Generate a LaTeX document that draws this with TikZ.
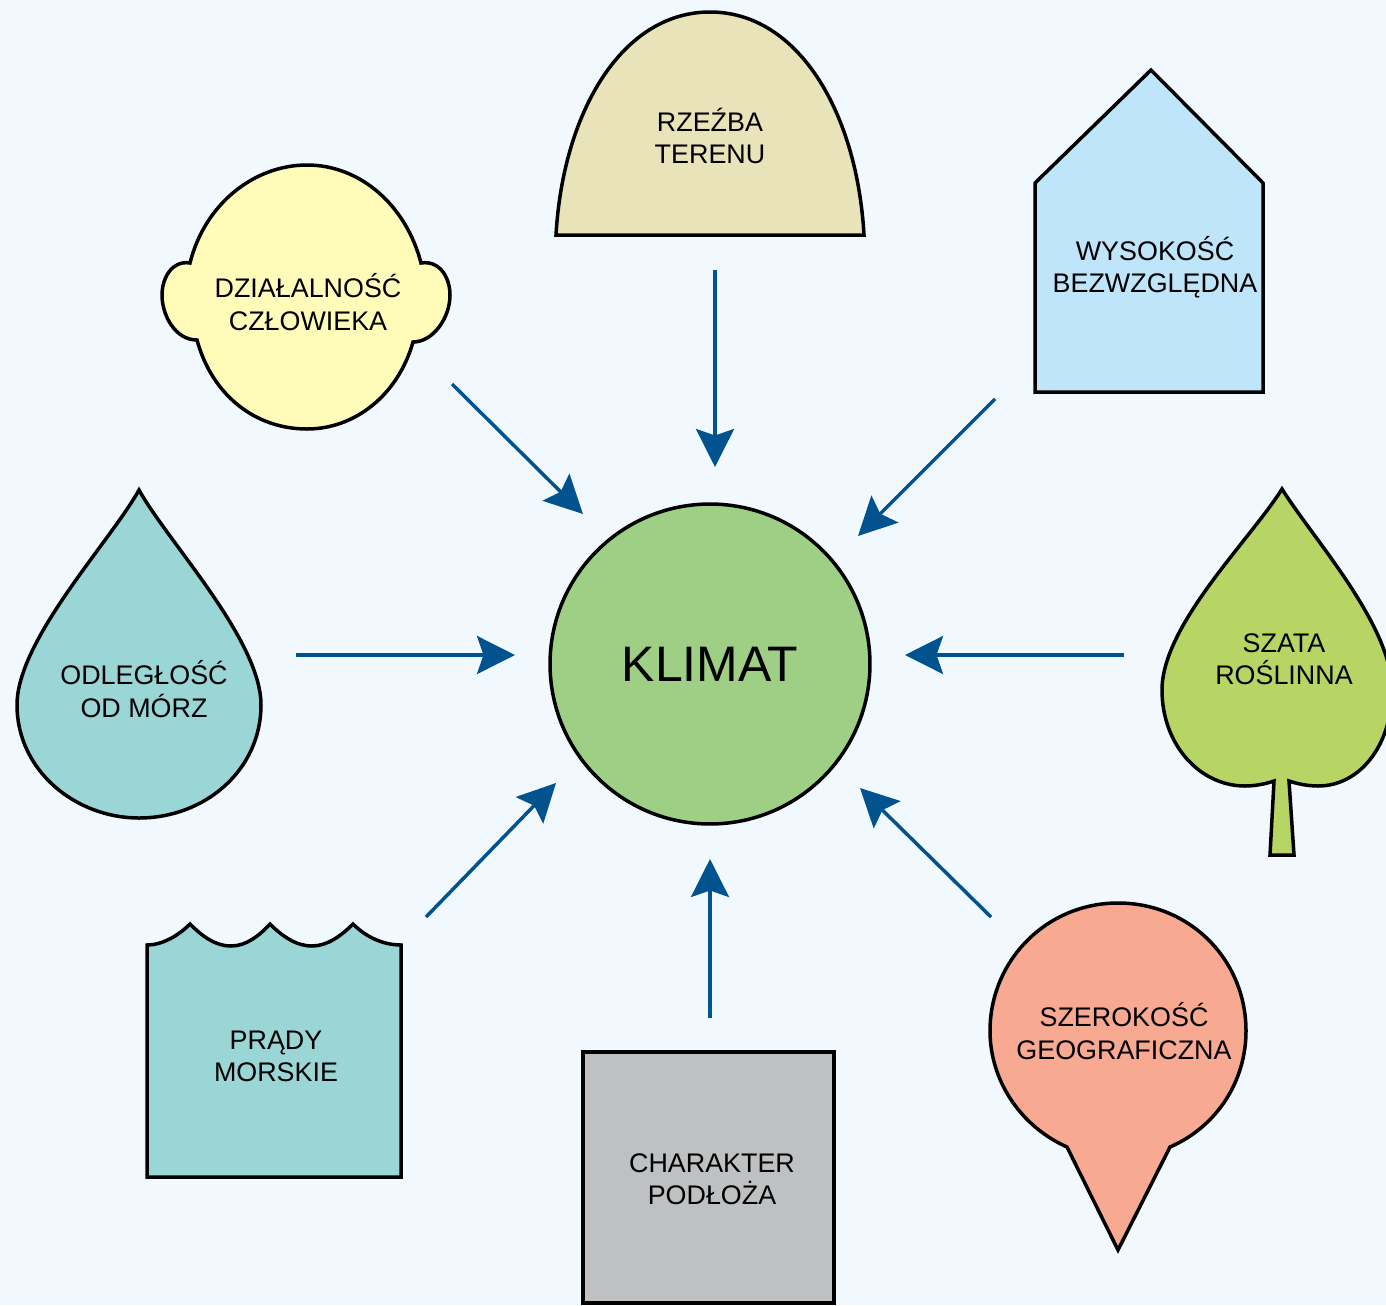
\documentclass[tikz,border=0pt]{standalone}
\usepackage{fontspec}
\setmainfont{Liberation Sans}
\usetikzlibrary{arrows.meta}

\definecolor{bgblue}{HTML}{F2F9FE}
\definecolor{arrowblue}{HTML}{00538F}
\definecolor{hillcol}{HTML}{E8E3B8}
\definecolor{housecol}{HTML}{BFE5FA}
\definecolor{headcol}{HTML}{FFFBB8}
\definecolor{watercol}{HTML}{9AD6D6}
\definecolor{leafcol}{HTML}{B7D564}
\definecolor{climatecol}{HTML}{9FCF85}
\definecolor{greycol}{HTML}{BEC0C2}
\definecolor{pincol}{HTML}{F8A992}

\tikzset{
  outline/.style={draw=black,line width=0.07cm,line join=miter},
  caption/.style={align=center,inner sep=0pt,font=\fontsize{15.3}{18.35}\selectfont},
  flow/.style={draw=arrowblue,line width=0.07cm,
    -{Stealth[length=0.76cm,width=0.76cm,inset=0.13cm]}},
}

\begin{document}
\begin{tikzpicture}[x=0.02cm,y=-0.02cm]
  \useasboundingbox (0,0) rectangle (1386,1305);
  \fill[bgblue] (0,0) rectangle (1386,1305);

  % Centre
  \node[outline,circle,fill=climatecol,minimum size=6.4cm,inner sep=0pt,
    font=\fontsize{28.4}{34}\selectfont] (klimat) at (710,664) {KLIMAT};

  % Hill
  \draw[outline,fill=hillcol] (556,235) .. controls (563,112) and (622,12) .. (710,12)
    .. controls (798,12) and (857,112) .. (864,235) -- cycle;
  \node[caption] (rzezba) at (710,136) {RZEŹBA\\TERENU};

  % House
  \draw[outline,fill=housecol] (1035,183) -- (1151,70) -- (1263,183) -- (1263,392) -- (1035,392) -- cycle;
  \node[caption] (wysokosc) at (1155,267) {WYSOKOŚĆ\\BEZWZGLĘDNA};

  % Head
  \draw[outline,fill=headcol] (190,263) .. controls (205,203) and (255,165) .. (307,165)
    .. controls (360,165) and (406,205) .. (421,263)
    .. controls (440,260) and (450,278) .. (450,295)
    .. controls (450,318) and (433,342) .. (413,342)
    .. controls (398,395) and (355,429) .. (307,429)
    .. controls (255,429) and (212,395) .. (197,340)
    .. controls (175,340) and (162,315) .. (162,295)
    .. controls (162,278) and (172,260) .. (190,263) -- cycle;
  \node[caption] (czlowiek) at (308,302) {DZIAŁALNOŚĆ\\CZŁOWIEKA};

  % Drop
  \draw[outline,fill=watercol] (139,490) .. controls (110,542) and (17,640) .. (17,705)
    .. controls (17,770) and (75,818) .. (139,818)
    .. controls (205,818) and (261,770) .. (261,705)
    .. controls (261,640) and (168,542) .. (139,490) -- cycle;
  \node[caption] (morza) at (144,689) {ODLEGŁOŚĆ\\OD MÓRZ};

  % Leaf
  \draw[outline,fill=leafcol] (1282,489) .. controls (1250,540) and (1162,625) .. (1162,690)
    .. controls (1162,745) and (1200,786) .. (1245,786)
    .. controls (1255,786) and (1265,784) .. (1274,781)
    -- (1270,855) -- (1294,855) -- (1289,781)
    .. controls (1298,784) and (1308,786) .. (1318,786)
    .. controls (1360,786) and (1392,745) .. (1392,690)
    .. controls (1392,625) and (1314,540) .. (1282,489) -- cycle;
  \node[caption] (szata) at (1284,659) {SZATA\\ROŚLINNA};

  % Waves
  \draw[outline,fill=watercol] (147,945) .. controls (162,945) and (178,936) .. (190,924)
    .. controls (202,936) and (215,946) .. (231,946)
    .. controls (246,946) and (259,936) .. (270,924)
    .. controls (282,936) and (296,946) .. (312,946)
    .. controls (327,946) and (341,936) .. (353,924)
    .. controls (365,936) and (382,945) .. (401,945)
    -- (401,1177) -- (147,1177) -- cycle;
  \node[caption] (prady) at (276,1056) {PRĄDY\\MORSKIE};

  % Square
  \draw[outline,fill=greycol] (583,1052) rectangle (834,1303);
  \node[caption] (podloze) at (712,1179) {CHARAKTER\\PODŁOŻA};

  % Pin
  \draw[outline,fill=pincol] (1067,1147) -- (1118,1250) -- (1170,1147)
    .. controls (1218,1126) and (1246,1080) .. (1246,1031)
    .. controls (1246,960) and (1190,903) .. (1118,903)
    .. controls (1047,903) and (990,960) .. (990,1031)
    .. controls (990,1080) and (1020,1126) .. (1067,1147) -- cycle;
  \node[caption] (szerokosc) at (1124,1031) {SZEROKOŚĆ\\GEOGRAFICZNA};

  % Arrow ends
  \coordinate (a1) at (715,270);   \coordinate (b1) at (715,467);
  \coordinate (a2) at (995,399);   \coordinate (b2) at (858,536);
  \coordinate (a3) at (1124,655);  \coordinate (b3) at (905,655);
  \coordinate (a4) at (991,917);   \coordinate (b4) at (860,788);
  \coordinate (a5) at (710,1018);  \coordinate (b5) at (710,859);
  \coordinate (a6) at (426,917);   \coordinate (b6) at (556,783);
  \coordinate (a7) at (296,655);   \coordinate (b7) at (515,655);
  \coordinate (a8) at (452,384);   \coordinate (b8) at (583,514);

  % Arrows
  \foreach \i in {1,...,8}
    \draw[flow] (a\i) -- (b\i);
\end{tikzpicture}
\end{document}
